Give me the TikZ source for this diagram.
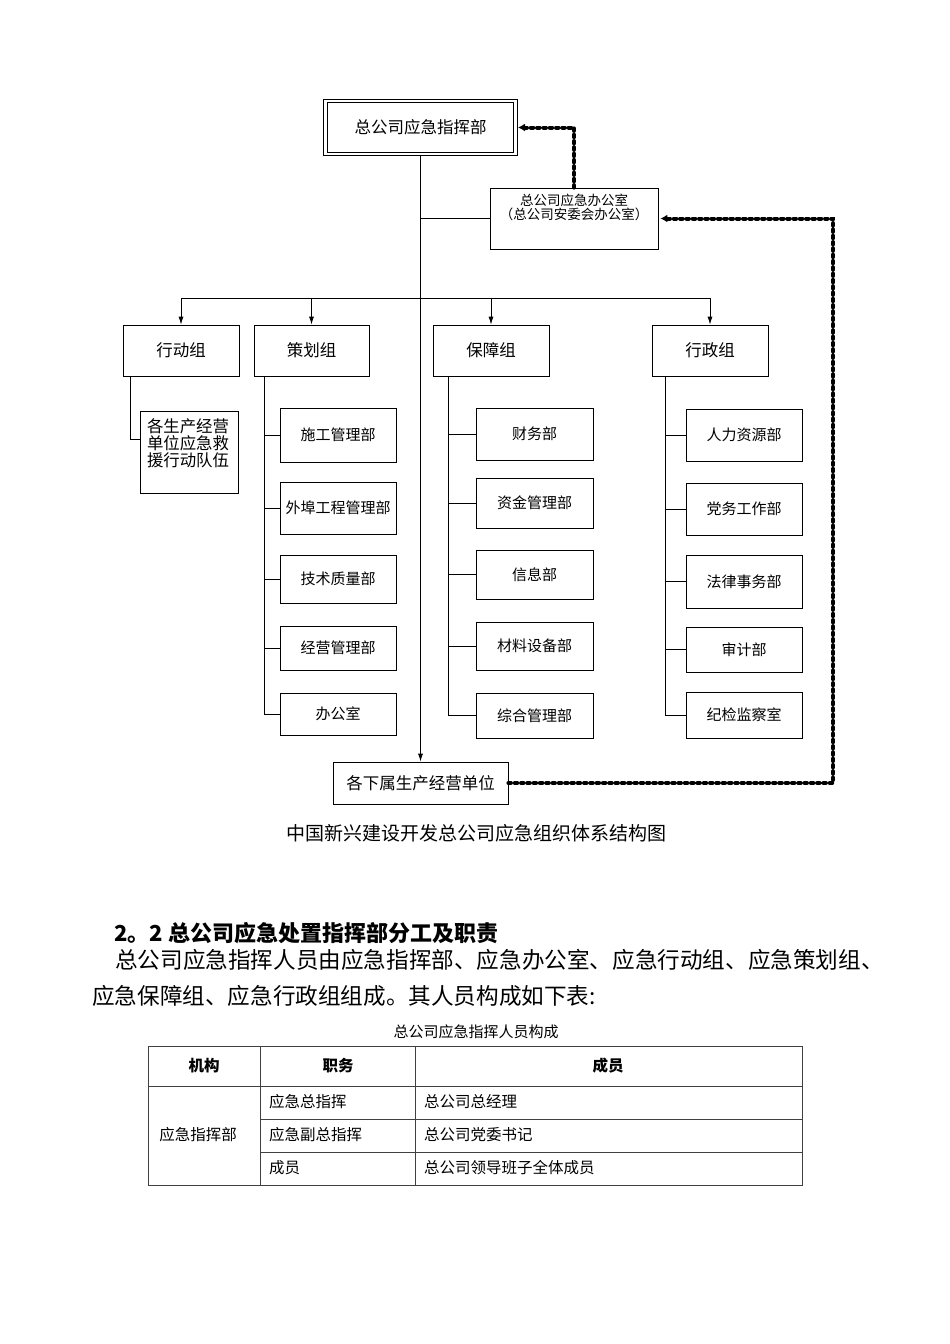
\documentclass[tikz,border=0pt]{standalone}
\usepackage{fontspec}
\setmainfont{Noto Sans CJK SC}
\usepackage{tikz}
\usetikzlibrary{positioning,calc,arrows.meta}

\newcommand{\fs}[1]{\fontsize{#1}{#1}\selectfont}

\begin{document}
\begin{tikzpicture}[x=1pt,y=-1pt,
    box/.style={draw,line width=0.8pt,inner sep=0pt,font=\fs{15}},
    link/.style={line width=0.8pt},
    down/.style={line width=0.8pt,-{Latex[length=8pt,width=5pt]}},
    signal/.style={line width=4pt,line cap=round,dash pattern=on 2.5pt off 3.8pt,shorten >=2pt,-{Latex[length=7pt,width=8pt]}},
    tab/.style={line width=0.7pt,black!75},
    cell/.style={anchor=west,inner sep=0pt,font=\fs{15.5}}]
  \fill[white] (0,0) rectangle (950,1344);
  \useasboundingbox (0,0) rectangle (950,1344);

  % top of the chart
  \node[draw,double,double distance=2.6pt,line width=1pt,minimum width=190,minimum height=53,font=\fs{16.5}] (hq) at (420.5,127.5) {总公司应急指挥部};
  \node[box,minimum width=168,minimum height=61] (office) at (574,218.5)
    {\parbox[c][48pt][t]{164pt}{\centering\fs{13.5}\baselineskip=14pt 总公司应急办公室\\（总公司安委会办公室）}};
  \node[box,minimum width=175,minimum height=42,font=\fs{16.5}] (units) at (420.5,783) {各下属生产经营单位};
  \draw[down] (hq.south) -- (units.north);
  \draw[link] (office.west) -- (office.west -| hq.south);

  % the four groups
  \foreach \g/\x/\w/\t in {act/181/116/行动组,plan/311.5/115/策划组,supp/491/116/保障组,admin/710/116/行政组}
    {\node[box,minimum width=\w,minimum height=51,font=\fs{16.5}] (\g) at (\x,350.5) {\t};}
  \coordinate (bus) at (420.5,298);
  \draw[link] (act.north |- bus) -- (admin.north |- bus);
  \foreach \g in {act,plan,supp,admin} {\draw[down] (\g.north |- bus) -- (\g.north);}

  % action group
  \node[box,minimum width=98,minimum height=82] (team) at (189,452)
    {\parbox[c][66pt][t]{84pt}{\fs{16.4}\baselineskip=17pt 各生产经营\\单位应急救\\援行动队伍}};
  \draw[link] ([xshift=8pt]act.south west) |- ([yshift=13pt]team.west);

  % planning group
  \foreach \n/\y/\h/\t in {1/435/54/施工管理部,2/508/52/外埠工程管理部,3/579/48/技术质量部,4/648/44/经营管理部,5/714/42/办公室}
    {\node[box,minimum width=116,minimum height=\h] (pl\n) at (338,\y) {\t};
     \draw[link] (pl\n.west) -- ++(-15,0);}
  \draw[link] ([xshift=11pt]plan.south west) |- (pl5.west);

  % support group
  \foreach \n/\y/\h/\t in {1/434/52/财务部,2/503/50/资金管理部,3/574.5/49/信息部,4/646/48/材料设备部,5/715.5/45/综合管理部}
    {\node[box,minimum width=117,minimum height=\h] (sp\n) at (534.5,\y) {\t};
     \draw[link] (sp\n.west) -- ++(-27,0);}
  \draw[link] ([xshift=16pt]supp.south west) |- (sp5.west);

  % administration group
  \foreach \n/\y/\h/\t in {1/435/52/人力资源部,2/509/52/党务工作部,3/581.5/53/法律事务部,4/649.5/45/审计部,5/715/46/纪检监察室}
    {\node[box,minimum width=116,minimum height=\h] (ad\n) at (744,\y) {\t};
     \draw[link] (ad\n.west) -- ++(-20,0);}
  \draw[link] ([xshift=14pt]admin.south west) |- (ad5.west);

  % feedback lines
  \draw[signal] (office.north) |- (hq.east);
  \coordinate (turn) at (office.east -| 833,0);
  \draw[signal] (units.east) -| (turn) -- (office.east);

  \node[font=\fs{19}] (caption) at (476,833) {中国新兴建设开发总公司应急组织体系结构图};

  % text below the chart
  \node[anchor=west,inner sep=0pt,font=\fs{22}\bfseries] (head) at (114,933) {2。2 总公司应急处置指挥部分工及职责};
  \node[anchor=west,inner sep=0pt,font=\fs{22.6}] (line1) at (115,960) {总公司应急指挥人员由应急指挥部、应急办公室、应急行动组、应急策划组、};
  \node[anchor=west,inner sep=0pt,font=\fs{22.6}] (line2) at (92,996) {应急保障组、应急行政组组成。其人员构成如下表:};
  \node[font=\fs{15}] (tabcap) at (476,1032) {总公司应急指挥人员构成};

  % table
  \draw[tab] (148,1046) rectangle (802,1185);
  \draw[tab] (260,1046) -- (260,1185);
  \draw[tab] (415,1046) -- (415,1185);
  \draw[tab] (148,1086) -- (802,1086);
  \draw[tab] (260,1119) -- (802,1119);
  \draw[tab] (260,1152) -- (802,1152);
  \foreach \x/\t in {204/机构,338/职务,608/成员}
    {\node[font=\fs{15.5}\bfseries] at (\x,1066) {\t};}
  \node[font=\fs{15.5}] (org) at (198,1135) {应急指挥部};
  \foreach \y/\a/\b in {1102/应急总指挥/总公司总经理,1135/应急副总指挥/总公司党委书记,1168/成员/总公司领导班子全体成员}
    {\node[cell] at (269,\y) {\a};\node[cell] at (424,\y) {\b};}
\end{tikzpicture}
\end{document}
